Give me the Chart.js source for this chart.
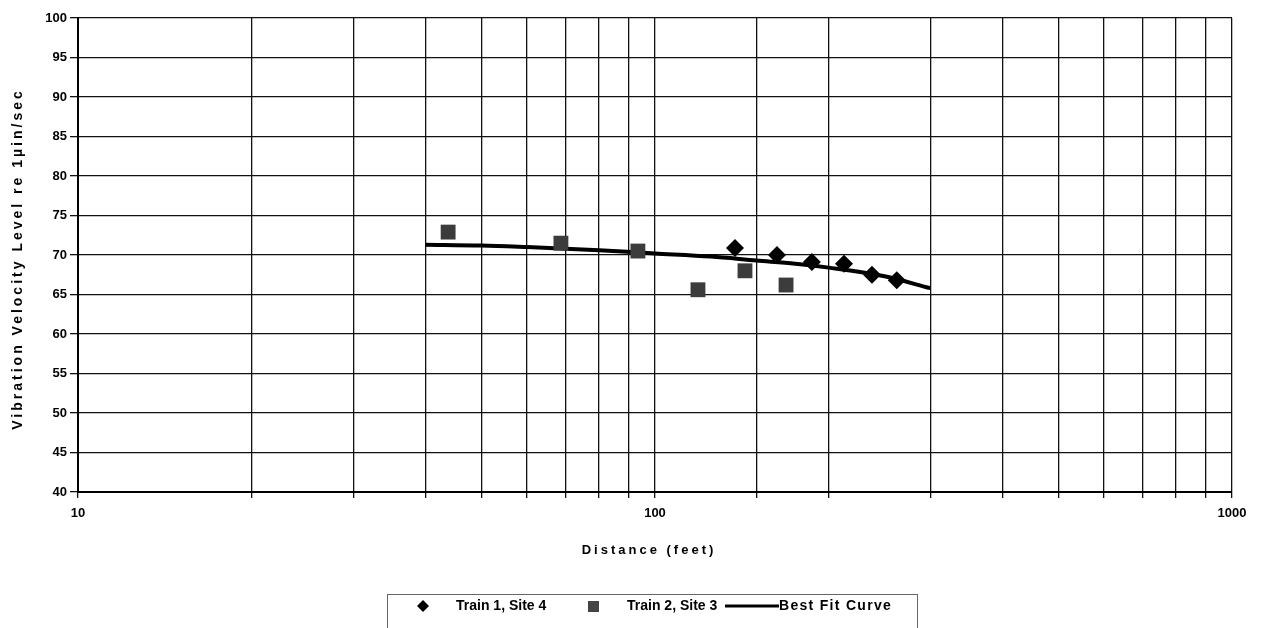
<!DOCTYPE html>
<html>
<head>
<style>
  body { margin: 0; background: #fff; }
  #wrap { width: 1263px; height: 628px; }
</style>
</head>
<body>
  <div id="wrap">
    <canvas id="myChart"></canvas>
  </div>

<script src="https://cdn.jsdelivr.net/npm/chart.js@4.4.1/dist/chart.umd.min.js"></script>

<script>
  // values
  const train1Distance = [137.6, 162.7, 187, 212.6, 237.7, 262.4]
  const train1Level = [70.9, 70.0, 69.1, 68.9, 67.5, 66.8]

  const train2Distance = [43.8, 68.7, 93.4, 118.7, 143.2, 168.7]
  const train2Level = [72.9, 71.5, 70.5, 65.6, 68.0, 66.2]

  const fitDistance = [40, 50, 60, 70, 80, 100, 125, 150, 175, 200, 250, 300]
  const fitLevel = [71.3, 71.2, 71.0, 70.8, 70.6, 70.2, 69.8, 69.3, 68.9, 68.4, 67.3, 65.8]

  const xLabelTicks = [10, 100, 1000]
  const xTitle = 'Distance (feet)'
  const yTitle = 'Vibration Velocity Level re 1µin/sec'

  const toPoints = (xs, ys) => xs.map((x, i) => ({ x: x, y: ys[i] }))

  const font = 'Liberation Sans, Arial, sans-serif'

  // axis titles with the wide letter spacing of the scan
  const spacedTitles = {
    id: 'spacedTitles',
    afterDraw(chart) {
      const ctx = chart.ctx
      const area = chart.chartArea
      ctx.save()
      ctx.fillStyle = '#000'
      ctx.textAlign = 'center'
      ctx.textBaseline = 'middle'
      ctx.font = 'bold 13px ' + font
      ctx.letterSpacing = '3px'
      ctx.fillText(xTitle, (area.left + area.right) / 2 - 6, 550)

      ctx.translate(18, (area.top + area.bottom) / 2 + 4)
      ctx.rotate(-Math.PI / 2)
      ctx.font = 'bold 14px ' + font
      ctx.letterSpacing = '3px'
      ctx.fillText(yTitle, 0, 0)
      ctx.restore()
    }
  }

  // legend drawn as a boxed strip like the original
  const boxLegend = {
    id: 'boxLegend',
    afterDraw(chart) {
      const ctx = chart.ctx
      const ds = chart.data.datasets
      ctx.save()
      ctx.strokeStyle = '#666'
      ctx.lineWidth = 1
      ctx.strokeRect(387.5, 594.5, 530, 45)
      ctx.font = 'bold 14px ' + font
      ctx.textBaseline = 'middle'
      ctx.fillStyle = '#000'
      const y = 606

      // diamond
      ctx.beginPath()
      ctx.moveTo(423, y - 6); ctx.lineTo(429, y); ctx.lineTo(423, y + 6); ctx.lineTo(417, y)
      ctx.closePath()
      ctx.fill()
      ctx.fillText(ds[0].label, 456, y)

      // square
      ctx.fillStyle = '#444'
      ctx.fillRect(588, y - 5, 11, 11)
      ctx.fillStyle = '#000'
      ctx.fillText(ds[1].label, 627, y)

      // line
      ctx.strokeStyle = '#000'
      ctx.lineWidth = 3
      ctx.beginPath()
      ctx.moveTo(725, y); ctx.lineTo(779, y)
      ctx.stroke()
      ctx.letterSpacing = '1.3px'
      ctx.fillText(ds[2].label, 779, y)
      ctx.restore()
    }
  }

  const ctx = document.getElementById('myChart')

  new Chart(ctx, {
    type: 'scatter',
    data: {
      datasets: [{
        label: 'Train 1, Site 4',
        data: toPoints(train1Distance, train1Level),
        pointStyle: 'rectRot',
        pointRadius: 9,
        backgroundColor: '#000',
        borderColor: '#000',
        borderWidth: 0
      }, {
        label: 'Train 2, Site 3',
        data: toPoints(train2Distance, train2Level),
        pointStyle: 'rect',
        pointRadius: 10.5,
        backgroundColor: '#3c3c3c',
        borderColor: '#3c3c3c',
        borderWidth: 0
      }, {
        label: 'Best Fit Curve',
        type: 'line',
        data: toPoints(fitDistance, fitLevel),
        borderColor: '#000',
        borderWidth: 4,
        pointRadius: 0,
        cubicInterpolationMode: 'monotone',
        showLine: true
      }]
    },
    options: {
      responsive: true,
      maintainAspectRatio: false,
      animation: false,
      layout: { padding: { left: 0, right: 31, top: 18, bottom: 50 } },
      plugins: {
        legend: { display: false },
        tooltip: { enabled: false }
      },
      scales: {
        x: {
          type: 'logarithmic',
          min: 10,
          max: 1000,
          afterFit: s => { s.height = 86 },
          border: { color: '#000', width: 2 },
          grid: { color: '#111', lineWidth: 1.3, tickLength: 6 },
          ticks: {
            autoSkip: false,
            maxRotation: 0,
            padding: 8,
            color: '#000',
            font: { family: font, size: 13, weight: 'bold' },
            callback: v => xLabelTicks.includes(v) ? String(v) : ''
          }
        },
        y: {
          min: 40,
          max: 100,
          afterFit: s => { s.width = 78 },
          border: { color: '#000', width: 2 },
          grid: { color: '#111', lineWidth: 1.3, tickLength: 8 },
          ticks: {
            stepSize: 5,
            padding: 3,
            color: '#000',
            font: { family: font, size: 13, weight: 'bold' }
          }
        }
      }
    },
    plugins: [spacedTitles, boxLegend]
  })
</script>
</body>
</html>
